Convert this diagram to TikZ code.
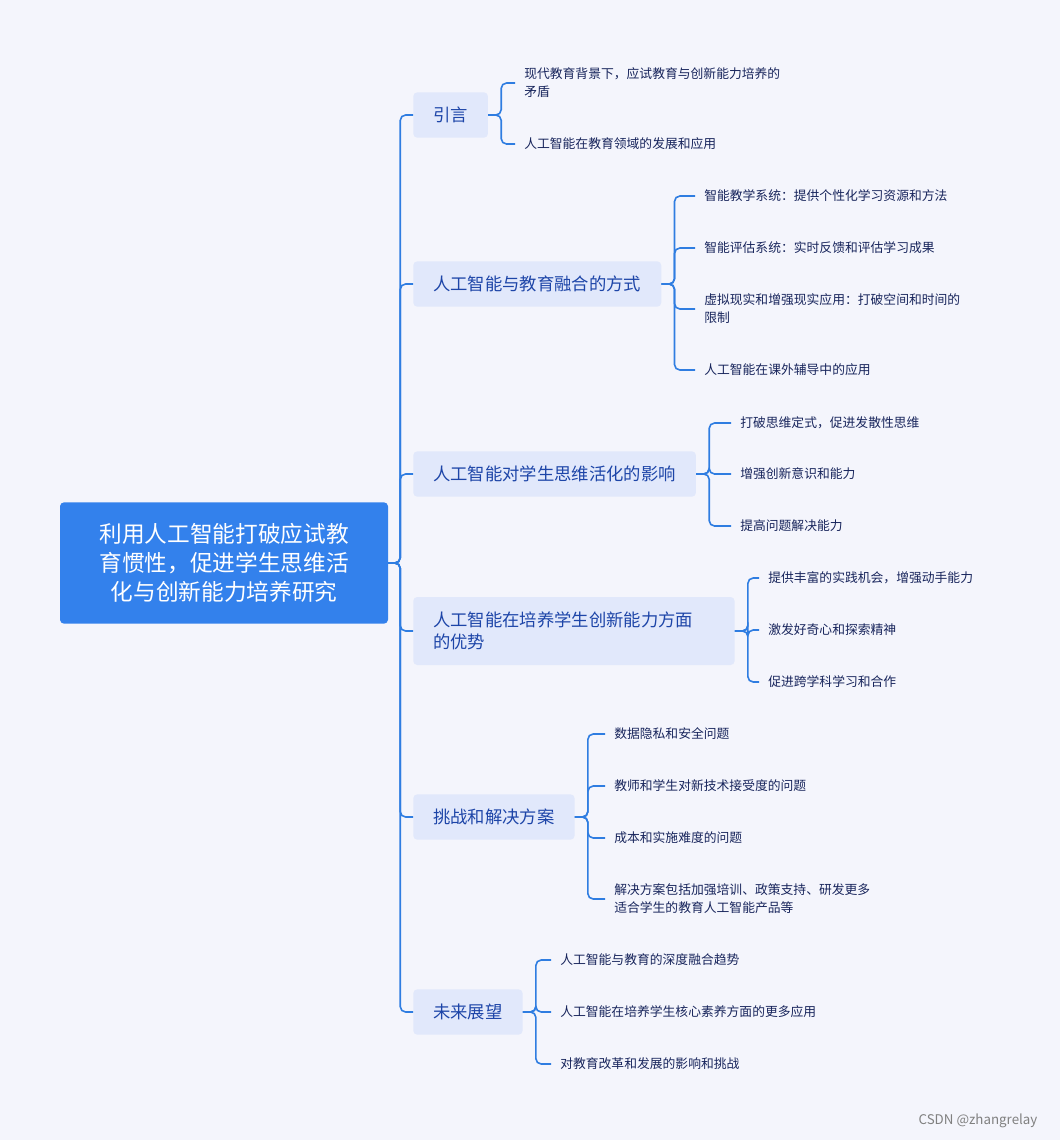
\documentclass[tikz,border=0pt]{standalone}
\usepackage{fontspec}
\setmainfont{Noto Sans CJK SC}
\definecolor{bgcol}{HTML}{F4F5FC}
\definecolor{rootcol}{HTML}{3381EC}
\definecolor{boxcol}{HTML}{E1E8FB}
\definecolor{boxtext}{HTML}{1D45A8}
\definecolor{leaftext}{HTML}{18255C}
\definecolor{linecol}{HTML}{2F7DE1}
\tikzset{
  rootbox/.style={fill=rootcol, text=white, rounded corners=3pt, minimum width=246pt,
    minimum height=91pt, align=center, font=\fontsize{17}{22}\selectfont},
  topic/.style={fill=boxcol, text=boxtext, rounded corners=3pt, anchor=west,
    inner xsep=15pt, minimum height=34pt, align=left, font=\fontsize{13}{16}\selectfont},
  leaf/.style={text=leaftext, anchor=west, inner xsep=6.75pt, inner ysep=0pt,
    align=left, font=\fontsize{9.6}{13.5}\selectfont},
  conn/.style={draw=linecol, line width=1.2pt, rounded corners=4pt},
}
\begin{document}
\begin{tikzpicture}[x=0.75pt,y=-0.75pt]
  \fill[bgcol] (0,0) rectangle (1060,1140);
  \useasboundingbox (0,0) rectangle (1060,1140);

  \node[rootbox] (root) at (224,563) {利用人工智能打破应试教\\育惯性，促进学生思维活\\化与创新能力培养研究};

  \node[topic] (intro) at (413,115) {引言};
  \node[topic] (merge) at (413,284) {人工智能与教育融合的方式};
  \node[topic] (think) at (413,474) {人工智能对学生思维活化的影响};
  \node[topic, text width=211pt, minimum height=51pt] (adv) at (413,631) {人工智能在培养学生创新能力方面\\的优势};
  \node[topic] (chal) at (413,817) {挑战和解决方案};
  \node[topic] (future) at (413,1012) {未来展望};

  % leaves
  \node[leaf] (intro1) at (515,83) {现代教育背景下，应试教育与创新能力培养的\\矛盾};
  \node[leaf] (intro2) at (515,144) {人工智能在教育领域的发展和应用};

  \node[leaf] (merge1) at (695,196) {智能教学系统：提供个性化学习资源和方法};
  \node[leaf] (merge2) at (695,248) {智能评估系统：实时反馈和评估学习成果};
  \node[leaf] (merge3) at (695,309) {虚拟现实和增强现实应用：打破空间和时间的\\限制};
  \node[leaf] (merge4) at (695,370) {人工智能在课外辅导中的应用};

  \node[leaf] (think1) at (731,423) {打破思维定式，促进发散性思维};
  \node[leaf] (think2) at (731,474) {增强创新意识和能力};
  \node[leaf] (think3) at (731,526) {提高问题解决能力};

  \node[leaf] (adv1) at (759,578) {提供丰富的实践机会，增强动手能力};
  \node[leaf] (adv2) at (759,630) {激发好奇心和探索精神};
  \node[leaf] (adv3) at (759,682) {促进跨学科学习和合作};

  \node[leaf] (chal1) at (605,734) {数据隐私和安全问题};
  \node[leaf] (chal2) at (605,786) {教师和学生对新技术接受度的问题};
  \node[leaf] (chal3) at (605,838) {成本和实施难度的问题};
  \node[leaf] (chal4) at (605,899) {解决方案包括加强培训、政策支持、研发更多\\适合学生的教育人工智能产品等};

  \node[leaf] (future1) at (551,960) {人工智能与教育的深度融合趋势};
  \node[leaf] (future2) at (551,1012) {人工智能在培养学生核心素养方面的更多应用};
  \node[leaf] (future3) at (551,1064) {对教育改革和发展的影响和挑战};

  \node[text=gray, font=\fontsize{10}{12}\selectfont] (mark) at (978,1121) {CSDN @zhangrelay};

  % trunk
  \foreach \t in {intro,merge,think,adv,chal,future}
    \draw[conn] (root.east) -- ++(12,0) |- (\t.west);

  % branches
  \foreach \t/\n in {intro/2,merge/4,think/3,adv/3,chal/4,future/3}
    \foreach \i in {1,...,\n}
      \draw[conn] (\t.east) -- ++(13,0) |- (\t\i.west);
\end{tikzpicture}
\end{document}
